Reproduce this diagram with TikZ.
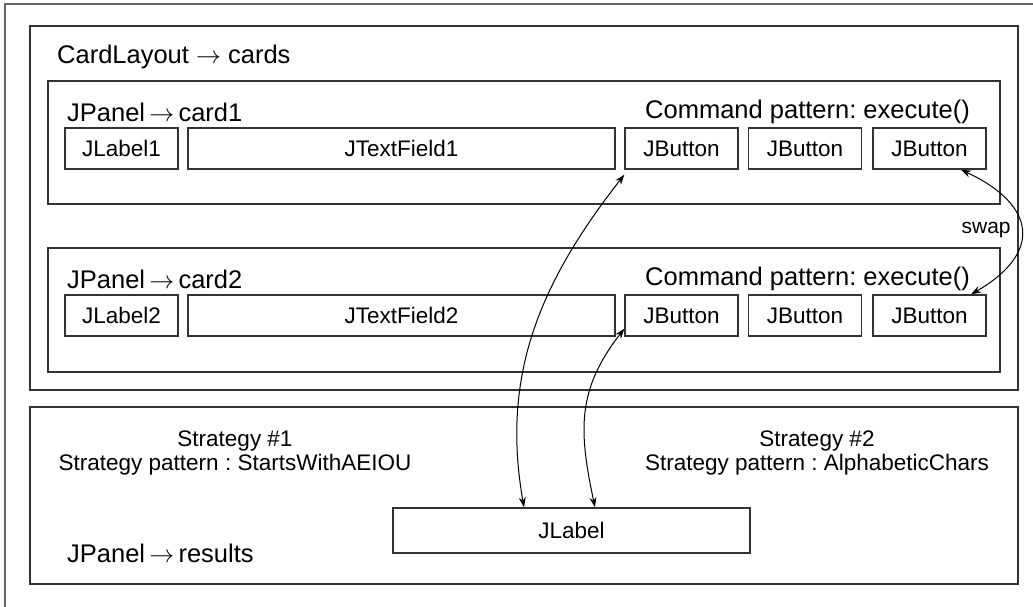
\documentclass[tikz,border=0pt]{standalone}
\usepackage{fontspec}
\setmainfont{Liberation Sans}
\usetikzlibrary{arrows.meta}

\newcommand{\pto}{\,$\to$\,}
\frenchspacing

\begin{document}
\begin{tikzpicture}[x=1pt,y=-1pt,
panel/.style={draw=black!80,line width=1.5pt},
comp/.style={draw=black!80,line width=1.4pt,minimum width=113pt,minimum height=41pt,inner sep=0pt,font=\fontsize{22.5}{26}\selectfont},
title/.style={anchor=west,inner sep=0pt,font=\fontsize{25.5}{30}\selectfont},
strat/.style={align=center,inner sep=0pt,font=\fontsize{22.5}{24}\selectfont},
link/.style={{Stealth[length=10pt,width=7pt]}-{Stealth[length=10pt,width=7pt]},line width=1pt}
]
\useasboundingbox (0,0) rectangle (1033,607);
% outer frame, cut off at the right and bottom
\draw[draw=black!60,line width=1.5pt] (1033,4) -- (5,4) -- (5,607);
% panels
\draw[panel] (30,26) rectangle (1018,390);
\draw[panel] (48,81) rectangle (1000,204);
\draw[panel] (48,248) rectangle (1000,372);
\draw[panel] (30,407) rectangle (1018,584);
\node[title] (tcards) at (57,57) {CardLayout $\to$ cards};
% card1
\node[title] (tcard1) at (67,112) {JPanel\pto card1};
\node[title,anchor=east] (cmd1) at (970,112) {Command pattern: execute()};
\node[comp] (l1) at (121.5,148.5) {JLabel1};
\node[comp,minimum width=427pt] (f1) at (401.5,148.5) {JTextField1};
\node[comp] (b11) at (681.5,148.5) {JButton};
\node[comp] (b12) at (805,148.5) {JButton};
\node[comp] (b13) at (929.5,148.5) {JButton};
% card2
\node[title] (tcard2) at (67,279) {JPanel\pto card2};
\node[title,anchor=east] (cmd2) at (970,279) {Command pattern: execute()};
\node[comp] (l2) at (121.5,315.5) {JLabel2};
\node[comp,minimum width=427pt] (f2) at (401.5,315.5) {JTextField2};
\node[comp] (b21) at (681.5,315.5) {JButton};
\node[comp] (b22) at (805,315.5) {JButton};
\node[comp] (b23) at (929.5,315.5) {JButton};
% results
\node[strat] (s1) at (235,453) {Strategy \#1\\Strategy pattern : StartsWithAEIOU};
\node[strat] (s2) at (817,453) {Strategy \#2\\Strategy pattern : AlphabeticChars};
\node[comp,minimum width=357pt,minimum height=45pt] (jl) at (571.5,530.5) {JLabel};
\node[title] (tres) at (67,553) {JPanel\pto results};
% connectors
\draw[link] (b13.-34) to[out=-25,in=30,looseness=1.7] node[pos=0.5,inner sep=0pt,font=\fontsize{21}{24}\selectfont,anchor=east,xshift=-10pt] (swap) {swap} (b23.27);
\draw[link] ([xshift=-47.5pt]jl.north) to[out=100,in=232,looseness=1] ([yshift=-5pt]b11.south west);
\draw[link] ([xshift=23.5pt]jl.north) to[out=102,in=232,looseness=1.1] ([yshift=8pt]b21.south west);
\end{tikzpicture}
\end{document}
